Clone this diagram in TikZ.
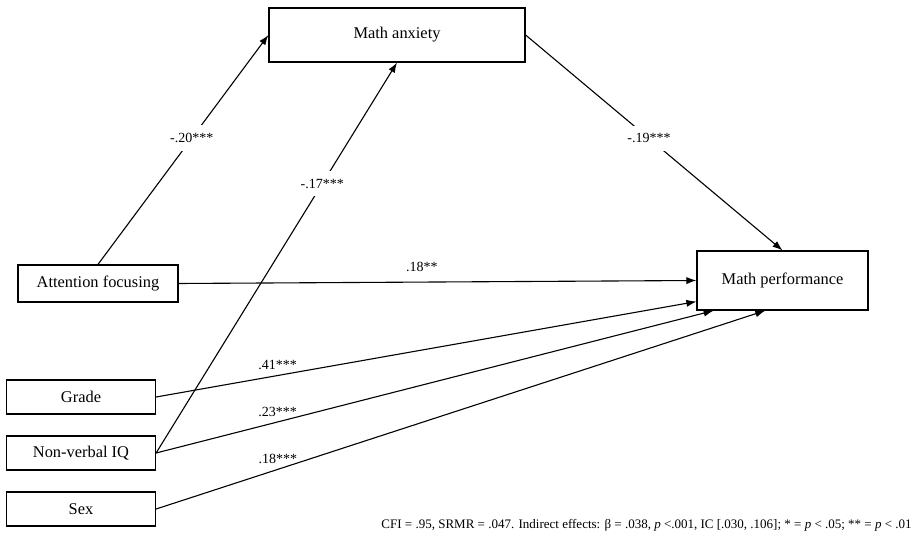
\documentclass[tikz,border=0pt]{standalone}
\usepackage{fontspec}
\setmainfont{Liberation Serif}
\usetikzlibrary{arrows.meta,calc}
\begin{document}
\begin{tikzpicture}[x=.5pt,y=-.5pt,
  var/.style={draw,line width=.6pt,inner sep=0pt,font=\fontsize{8.2}{10}\selectfont},
  path/.style={line width=.55pt,-{Latex[length=5pt,width=3.6pt]}},
  coef/.style={font=\fontsize{7}{8}\selectfont,inner sep=1pt},
  cut/.style={coef,fill=white,inner xsep=1pt,inner ysep=4pt}]
\useasboundingbox(0,0)rectangle(914,550);
% boxes
\node[var,minimum width=128pt,minimum height=27pt](anx)at(397,35){Math anxiety};
\node[var,minimum width=80pt,minimum height=18.5pt](att)at(98,283.5){Attention focusing};
\node[var,minimum width=85.5pt,minimum height=29.5pt](perf)at(782.5,280.5){Math performance};
\foreach \n/\t/\y in {grade/Grade/397,iq/Non-verbal IQ/453,sex/Sex/509}
  \node[var,minimum width=74.5pt,minimum height=17pt](\n)at(81,\y){\t};
% mediation paths
\draw[path](att.north)--node[cut,pos=.55]{-.20***}(anx.west);
\draw[path](iq.east)--node[cut,pos=.69]{-.17***}(anx.south);
\draw[path](anx.east)--node[cut,pos=.48]{-.19***}(perf.north);
\draw[path](att.east)--node[coef,above=4pt,pos=.47]{.18**}(perf.west);
% covariates
\coordinate(g)at($(perf.west)!.7!(perf.south west)$);
\coordinate(i)at($(perf.south west)!.1!(perf.south east)$);
\coordinate(s)at($(perf.south west)!.4!(perf.south east)$);
\foreach \n/\c/\v/\p in {grade/g/.41***/.225,iq/i/.23***/.218,sex/s/.18***/.2}
  \draw[path](\n.east)--node[coef,above=1.5pt,pos=\p]{\v}(\c);
\node[anchor=east,font=\fontsize{6.5}{8}\selectfont,inner sep=0pt](note)at(912,525)
  {CFI = .95, SRMR = .047. Indirect effects: β = .038, \textit{p} <.001, IC [.030, .106]; * = \textit{p} < .05; ** = \textit{p} < .01};
\end{tikzpicture}
\end{document}
